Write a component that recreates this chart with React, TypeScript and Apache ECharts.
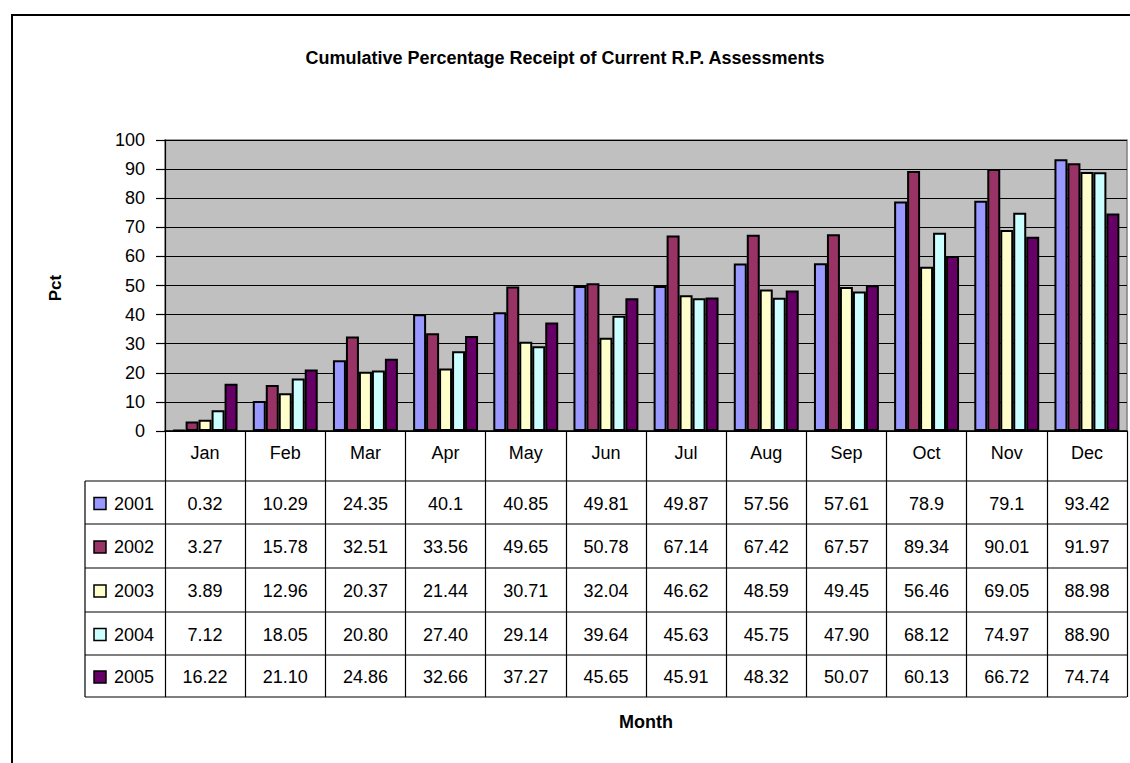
import React, { useEffect, useRef } from "react";
import * as echarts from "echarts";

const months = ["Jan", "Feb", "Mar", "Apr", "May", "Jun", "Jul", "Aug", "Sep", "Oct", "Nov", "Dec"];
const years = ["2001", "2002", "2003", "2004", "2005"];
const v2001 = [0.32, 10.29, 24.35, 40.1, 40.85, 49.81, 49.87, 57.56, 57.61, 78.9, 79.1, 93.42];
const v2002 = [3.27, 15.78, 32.51, 33.56, 49.65, 50.78, 67.14, 67.42, 67.57, 89.34, 90.01, 91.97];
const v2003 = [3.89, 12.96, 20.37, 21.44, 30.71, 32.04, 46.62, 48.59, 49.45, 56.46, 69.05, 88.98];
const v2004 = [7.12, 18.05, 20.8, 27.4, 29.14, 39.64, 45.63, 45.75, 47.9, 68.12, 74.97, 88.9];
const v2005 = [16.22, 21.1, 24.86, 32.66, 37.27, 45.65, 45.91, 48.32, 50.07, 60.13, 66.72, 74.74];
const seriesValues = [v2001, v2002, v2003, v2004, v2005];
// table display: 2004 and 2005 are shown with two fixed decimals
const fixedDecimals = [false, false, false, true, true];
const colors = ["#9999FF", "#993366", "#FFFFCC", "#CCFFFF", "#660066"];
const yTicks = { min: 0, max: 100, interval: 10 };
const titleText = "Cumulative Percentage Receipt of Current R.P. Assessments";
const yName = "Pct";
const xName = "Month";

const FONT = "'Liberation Sans', Arial, sans-serif";

export default function App() {
  const ref = useRef<HTMLDivElement>(null);
  useEffect(() => {
    if (!ref.current) return;
    const chart = echarts.init(ref.current, null, { renderer: "svg" });
    const W = 1130;
    const H = 763;
    const plotLeft = 165;
    const plotRight = 1127;
    const plotTop = 140;
    const plotBottom = 431;
    const tableLeft = 85;
    const rowLines = [481, 524, 568, 612, 655, 697];

    chart.setOption({
      animation: false,
      backgroundColor: "#ffffff",
      textStyle: { fontFamily: FONT },
      title: {
        text: titleText,
        left: "center",
        top: 44,
        textStyle: { fontFamily: FONT, fontSize: 18, fontWeight: "bold", color: "#000" },
      },
      grid: {
        left: plotLeft,
        right: W - plotRight,
        top: plotTop,
        bottom: H - plotBottom,
        show: true,
        backgroundColor: "#C0C0C0",
        borderColor: "#808080",
        borderWidth: 1.5,
      },
      xAxis: {
        type: "category",
        data: months,
        boundaryGap: true,
        axisLine: { show: true, lineStyle: { color: "#000", width: 1.5 } },
        axisTick: {
          show: true,
          interval: 0,
          length: rowLines[rowLines.length - 1] - plotBottom,
          lineStyle: { color: "#000", width: 1.2 },
        },
        axisLabel: { interval: 0, margin: 13, fontSize: 18, color: "#000", fontFamily: FONT },
        splitLine: { show: false },
      },
      yAxis: {
        type: "value",
        min: yTicks.min,
        max: yTicks.max,
        interval: yTicks.interval,
        axisLine: { show: true, lineStyle: { color: "#000", width: 1.2 } },
        axisTick: { show: true, length: 9, lineStyle: { color: "#000", width: 1.2 } },
        axisLabel: { margin: 20, fontSize: 18, color: "#000", fontFamily: FONT },
        splitLine: { show: true, lineStyle: { color: "#000", width: 1.2 } },
      },
      series: years.map((y, i) => ({
        name: y,
        type: "bar",
        data: seriesValues[i],
        barGap: "0%",
        barCategoryGap: "19%",
        itemStyle: { color: colors[i], borderColor: "#000", borderWidth: 2 },
      })),
    });

    const xs = months.map((_, i) => chart.convertToPixel({ xAxisIndex: 0 }, i) as number);
    const graphics: any[] = [];
    // outer frame
    graphics.push({
      type: "rect",
      shape: { x: 12, y: 15, width: 1300, height: 900 },
      style: { fill: "none", stroke: "#000", lineWidth: 2 },
      silent: true,
    });
    // horizontal table lines
    rowLines.forEach((yy) => {
      graphics.push({
        type: "line",
        shape: { x1: tableLeft, y1: yy, x2: plotRight, y2: yy },
        style: { stroke: "#000", lineWidth: 1.2 },
      });
    });
    // legend column left border
    graphics.push({
      type: "line",
      shape: { x1: tableLeft, y1: rowLines[0], x2: tableLeft, y2: rowLines[rowLines.length - 1] },
      style: { stroke: "#000", lineWidth: 1.2 },
    });
    years.forEach((y, r) => {
      const cy = (rowLines[r] + rowLines[r + 1]) / 2 + 1;
      graphics.push({
        type: "rect",
        shape: { x: 94, y: cy - 6, width: 12, height: 12 },
        style: { fill: colors[r], stroke: "#000", lineWidth: 1.5 },
      });
      graphics.push({
        type: "text",
        x: 114,
        y: cy,
        style: { text: y, fontSize: 18, fontFamily: FONT, fill: "#000", align: "left", verticalAlign: "middle" },
      });
      seriesValues[r].forEach((v, c) => {
        graphics.push({
          type: "text",
          x: xs[c],
          y: cy,
          style: {
            text: fixedDecimals[r] ? v.toFixed(2) : String(v),
            fontSize: 18,
            fontFamily: FONT,
            fill: "#000",
            align: "center",
            verticalAlign: "middle",
          },
        });
      });
    });
    graphics.push({
      type: "text",
      x: 55,
      y: 288,
      rotation: Math.PI / 2,
      style: { text: yName, fontSize: 17, fontWeight: "bold", fontFamily: FONT, fill: "#000", align: "center", verticalAlign: "middle" },
    });
    graphics.push({
      type: "text",
      x: (plotLeft + plotRight) / 2,
      y: 722,
      style: { text: xName, fontSize: 18, fontWeight: "bold", fontFamily: FONT, fill: "#000", align: "center", verticalAlign: "middle" },
    });
    chart.setOption({ graphic: graphics });

    return () => chart.dispose();
  }, []);
  return <div ref={ref} style={{ position: "absolute", left: 0, top: 0, width: 1130, height: 763 }} />;
}
